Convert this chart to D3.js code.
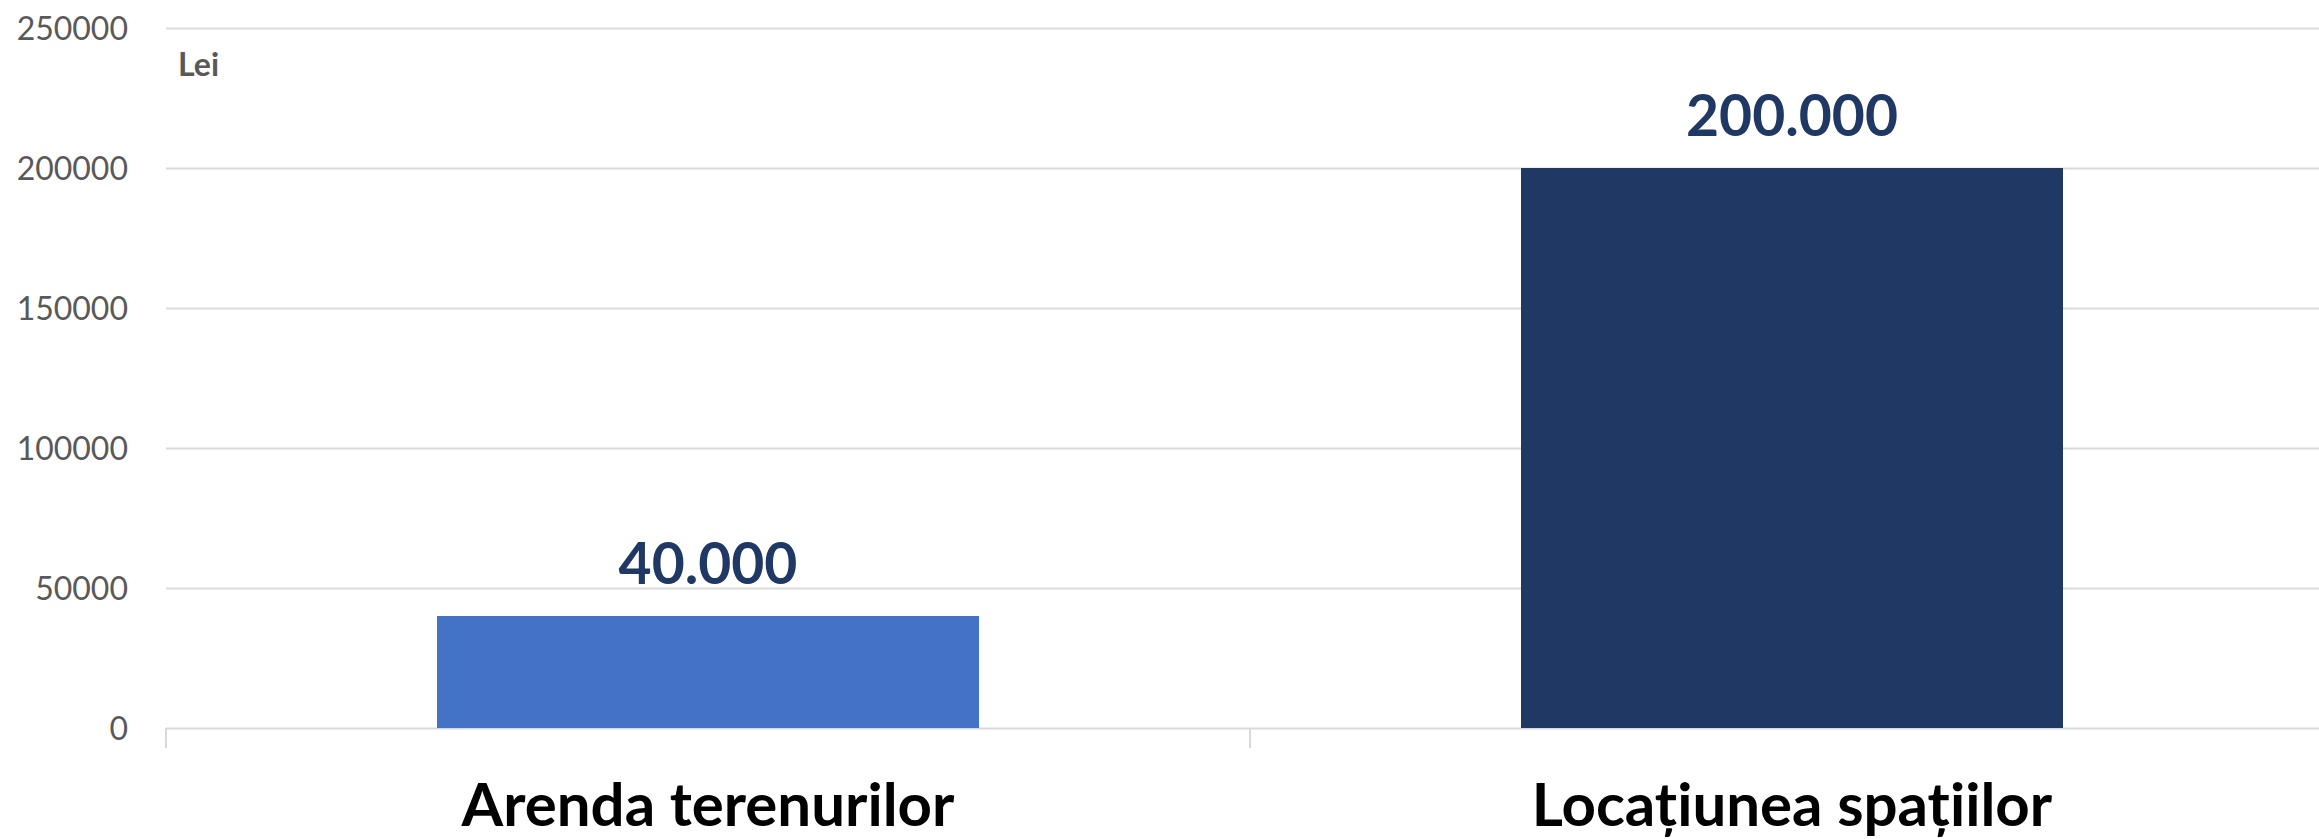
<!DOCTYPE html>
<html>
<head>
<meta charset="utf-8">
<script src="https://cdn.jsdelivr.net/npm/d3@7"></script>
<style>
  html, body { margin: 0; padding: 0; background: #ffffff; }
  svg { display: block; }
</style>
</head>
<body>
<svg id="chart" width="2319" height="839"></svg>
<script>
// ---- data ----
const categories = ["Arenda terenurilor", "Locațiunea spațiilor"];
const values = [40000, 200000];
const valueLabels = ["40.000", "200.000"];
const barColors = ["#4472C4", "#203864"];
const yTicks = [0, 50000, 100000, 150000, 200000, 250000];
const unitLabel = "Lei";

(function () {
// ---- layout ----
const W = 2319, H = 839;
const plotLeft = 166, plotRight = 2334, plotTop = 28, plotBottom = 728;

const svg = d3.select("#chart");

const y = d3.scaleLinear().domain([0, 250000]).range([plotBottom, plotTop]);
const x = d3.scaleBand().domain(categories).range([plotLeft, plotRight])
  .paddingInner(0.5).paddingOuter(0.25);

// gridlines + y tick labels
const yAxis = d3.axisLeft(y).tickValues(yTicks).tickFormat(d3.format("d"))
  .tickSizeInner(-(W - plotLeft)).tickSizeOuter(0).tickPadding(38);
const gy = svg.append("g").attr("transform", `translate(${plotLeft},0)`).call(yAxis);
gy.select(".domain").remove();
gy.selectAll(".tick line").attr("stroke", "#D9D9D9").attr("stroke-width", 2);
gy.selectAll(".tick text")
  .attr("fill", "#595959")
  .style("font-family", "Lato, 'Open Sans', sans-serif")
  .style("font-size", "32px")
  .attr("dy", "0.36em");

// category axis ticks (Excel style between categories)
const step = x.step();
const tickXs = [plotLeft, plotLeft + step, plotLeft + 2 * step];
svg.append("g").selectAll("line").data(tickXs).join("line")
  .attr("x1", d => d).attr("x2", d => d)
  .attr("y1", plotBottom).attr("y2", plotBottom + 20)
  .attr("stroke", "#D9D9D9").attr("stroke-width", 2);

// bars
svg.append("g").selectAll("rect").data(values).join("rect")
  .attr("x", (d, i) => x(categories[i]))
  .attr("width", x.bandwidth())
  .attr("y", d => y(d))
  .attr("height", d => y(0) - y(d))
  .attr("fill", (d, i) => barColors[i]);

// value labels
svg.append("g").selectAll("text").data(values).join("text")
  .attr("x", (d, i) => x(categories[i]) + x.bandwidth() / 2)
  .attr("y", d => y(d) - 32)
  .attr("text-anchor", "middle")
  .attr("fill", "#203864")
  .style("font-family", "Lato, 'Open Sans', sans-serif")
  .style("font-weight", "bold")
  .style("font-size", "57px")
  .text((d, i) => valueLabels[i]);

// category labels
svg.append("g").selectAll("text").data(categories).join("text")
  .attr("x", d => x(d) + x.bandwidth() / 2)
  .attr("y", 826)
  .attr("text-anchor", "middle")
  .attr("fill", "#000000")
  .style("font-family", "Lato, 'Open Sans', sans-serif")
  .style("font-weight", "bold")
  .style("font-size", "60px")
  .text(d => d);

// unit label
svg.append("text")
  .attr("x", 178).attr("y", 76)
  .attr("fill", "#595959")
  .style("font-family", "Lato, 'Open Sans', sans-serif")
  .style("font-weight", "bold")
  .style("font-size", "32px")
  .text(unitLabel);
})();
</script>
</body>
</html>
